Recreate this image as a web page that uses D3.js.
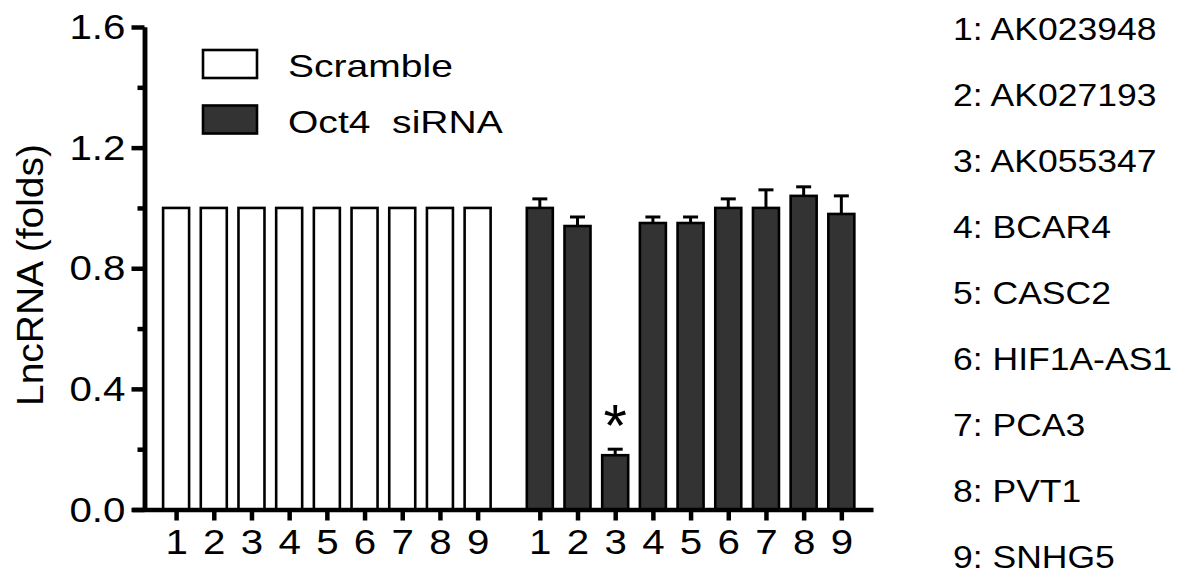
<!DOCTYPE html>
<html lang="en">
<head>
<meta charset="UTF-8">
<title>LncRNA folds</title>
<script src="https://d3js.org/d3.v7.min.js"></script>
<style>
html, body { margin: 0; padding: 0; background: #fff; }
svg { display: block; }
text { font-family: 'Liberation Sans', Arial, sans-serif; fill: #000; }
.axis path, .axis line { stroke: #000; stroke-width: 4.5; }
</style>
</head>
<body>
<svg id="canvas"></svg>
<script>
// data
let lncNames = ['AK023948', 'AK027193', 'AK055347', 'BCAR4', 'CASC2', 'HIF1A-AS1', 'PCA3', 'PVT1', 'SNHG5']
let groups = ['Scramble', 'Oct4  siRNA']
let scrambleValues = [1, 1, 1, 1, 1, 1, 1, 1, 1]
let sirnaValues = [1.00, 0.94, 0.18, 0.95, 0.95, 1.00, 1.00, 1.04, 0.98]
let sirnaErrors = [0.03, 0.03, 0.02, 0.02, 0.02, 0.03, 0.06, 0.03, 0.06]
let starred = [2]            // index of significant bar in siRNA group
let yMajorTicks = [0, 0.4, 0.8, 1.2, 1.6]
let yMinorTicks = [0.2, 0.6, 1.0, 1.4]

let width = 1181
let height = 581
let groupGap = 0.65          // extra slots between the two groups
let barWidth = 26
let stretch = 1.12           // glyphs in the figure are a bit wide

let svg = d3.select('#canvas')
    .attr('width', width)
    .attr('height', height)

// slot positions: group 0 -> 0..8, group 1 -> 9+gap .. 17+gap
let slot = (g, i) => g * (lncNames.length + groupGap) + i

let xScale = d3.scaleLinear()
    .domain([-1.17, 18.49])
    .range([132, 873])

let yScale = d3.scaleLinear()
    .domain([0, 1.6])
    .range([509.5, 27])

let bars = []
scrambleValues.forEach((v, i) => bars.push({ g: 0, i: i, v: v, e: 0 }))
sirnaValues.forEach((v, i) => bars.push({ g: 1, i: i, v: v, e: sirnaErrors[i] }))

let fills = ['#ffffff', '#333333']

// error bars (drawn first, bar covers the lower part)
let errs = bars.filter(d => d.e > 0)
svg.selectAll('.err')
    .data(errs)
    .enter()
    .append('line')
    .attr('x1', d => xScale(slot(d.g, d.i)))
    .attr('x2', d => xScale(slot(d.g, d.i)))
    .attr('y1', d => yScale(d.v))
    .attr('y2', d => yScale(d.v + d.e))
    .attr('stroke', '#000')
    .attr('stroke-width', 3)

svg.selectAll('.cap')
    .data(errs)
    .enter()
    .append('line')
    .attr('x1', d => xScale(slot(d.g, d.i)) - 7.5)
    .attr('x2', d => xScale(slot(d.g, d.i)) + 7.5)
    .attr('y1', d => yScale(d.v + d.e))
    .attr('y2', d => yScale(d.v + d.e))
    .attr('stroke', '#000')
    .attr('stroke-width', 3)

svg.selectAll('.bar')
    .data(bars)
    .enter()
    .append('rect')
    .attr('class', 'bar')
    .attr('x', d => xScale(slot(d.g, d.i)) - barWidth / 2)
    .attr('y', d => yScale(d.v))
    .attr('width', barWidth)
    .attr('height', d => yScale(0) - yScale(d.v))
    .attr('fill', d => fills[d.g])
    .attr('stroke', '#000')
    .attr('stroke-width', 2.6)

// significance star
svg.selectAll('.star')
    .data(starred)
    .enter()
    .append('text')
    .attr('x', i => xScale(slot(1, i)))
    .attr('y', i => yScale(sirnaValues[i] + sirnaErrors[i]) - 3)
    .attr('text-anchor', 'middle')
    .style('font-size', '60px')
    .text('*')

// axes
let yAxis = d3.axisLeft(yScale)
    .tickValues(yMajorTicks)
    .tickFormat(d3.format('.1f'))
    .tickSize(13)
    .tickSizeOuter(0)
    .tickPadding(4)

let yMinor = d3.axisLeft(yScale)
    .tickValues(yMinorTicks)
    .tickFormat('')
    .tickSize(7)
    .tickSizeOuter(0)

let positions = bars.map(d => slot(d.g, d.i))
let xAxis = d3.axisBottom(xScale)
    .tickValues(positions)
    .tickFormat((d, k) => String(bars[k].i + 1))
    .tickSize(11)
    .tickSizeOuter(0)
    .tickPadding(8)

svg.append('g')
    .attr('class', 'axis')
    .attr('transform', 'translate(0,' + yScale(0) + ')')
    .call(xAxis)

svg.append('g')
    .attr('class', 'axis')
    .attr('transform', 'translate(144.5,0)')
    .call(yMinor)

svg.append('g')
    .attr('class', 'axis')
    .attr('transform', 'translate(144.5,0)')
    .call(yAxis)

svg.selectAll('.axis text')
    .style('font-size', '36px')
    .attr('fill', '#000')
    .style('font-family', "'Liberation Sans', Arial, sans-serif")
    .attr('transform', 'scale(' + stretch + ',1)')

// axis title
svg.append('text')
    .attr('transform', 'translate(43,275) rotate(-90)')
    .attr('text-anchor', 'middle')
    .attr('textLength', 262)
    .attr('lengthAdjust', 'spacingAndGlyphs')
    .style('font-size', '36px')
    .text('LncRNA (folds)')

// legend
let legend = svg.selectAll('.legend')
    .data(groups)
    .enter()
    .append('g')
    .attr('transform', (d, k) => 'translate(0,' + (k * 55.5) + ')')

legend.append('rect')
    .attr('x', 203)
    .attr('y', 50)
    .attr('width', 54)
    .attr('height', 28)
    .attr('fill', (d, k) => fills[k])
    .attr('stroke', '#000')
    .attr('stroke-width', 2.6)

legend.append('text')
    .attr('transform', 'translate(288,77) scale(1.22,1)')
    .style('font-size', '32px')
    .style('white-space', 'pre')
    .text(d => d)

// name key on the right
svg.selectAll('.key')
    .data(lncNames)
    .enter()
    .append('text')
    .attr('transform', (d, i) => 'translate(953,' + (40 + i * 66) + ') scale(1.11,1)')
    .style('font-size', '32px')
    .text((d, i) => (i + 1) + ': ' + d)
</script>
</body>
</html>
